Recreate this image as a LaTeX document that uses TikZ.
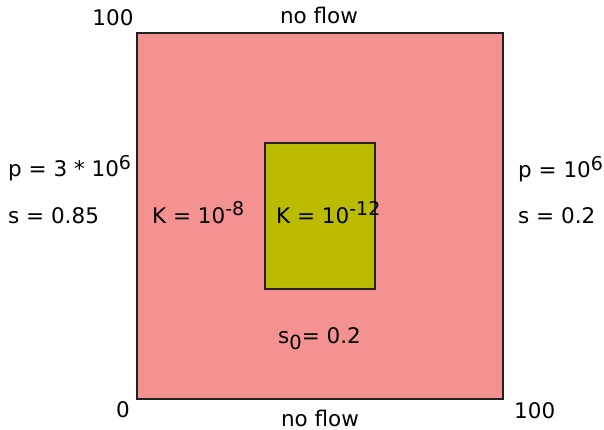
\documentclass[tikz,border=0pt]{standalone}
\usepackage{fontspec}
\setmainfont{DejaVu Sans}
\usepackage{tikz}
\usetikzlibrary{positioning}
\definecolor{domainPink}{HTML}{F49191}
\definecolor{lensOlive}{HTML}{BBBB00}
\definecolor{edgeGrey}{HTML}{222222}
\newcommand{\upfig}[1]{\raisebox{0.33em}{\fontsize{19}{19}\selectfont #1}}
\newcommand{\downfig}[1]{\raisebox{-0.28em}{\fontsize{19.5}{19.5}\selectfont #1}}

\begin{document}
\begin{tikzpicture}[
  x=1pt, y=-1pt,
  region/.style={draw=edgeGrey, line width=1.3pt},
  lbl/.style={inner sep=0pt, anchor=base, font=\fontsize{21.5}{25}\selectfont},
  llbl/.style={lbl, anchor=base west},
]
\useasboundingbox (0,0) rectangle (604,430);

% --- the domain and the low-permeability lens inside it
\draw[region, fill=domainPink] (137,33) rectangle (503,399);
\draw[region, fill=lensOlive] (265,143) rectangle (375,289);

% --- corner coordinates
\node[lbl] (ytop) at (113,26) {100};
\node[lbl] (orig) at (123,417) {0};
\node[llbl] (xend) at (514,418) {100};

% --- boundaries
\node[lbl] (nftop) at (319,24) {no flow};
\node[lbl] (nfbot) at (320,426) {no flow};
\node[llbl] (pleft) at (8,177) {p = 3 * 10\upfig{6}};
\node[llbl] (sleft) at (8,223) {s = 0.85};
\node[llbl] (pright) at (518,178) {p = 10\upfig{6}};
\node[llbl] (sright) at (518,223) {s = 0.2};

% --- material properties and initial state
\node[llbl] (kout) at (152,223) {K = 10\upfig{-8}};
\node[llbl] (kin) at (276,223) {K = 10\upfig{-12}};
\node[llbl] (sinit) at (278,343) {s\downfig{0}= 0.2};
\end{tikzpicture}
\end{document}
